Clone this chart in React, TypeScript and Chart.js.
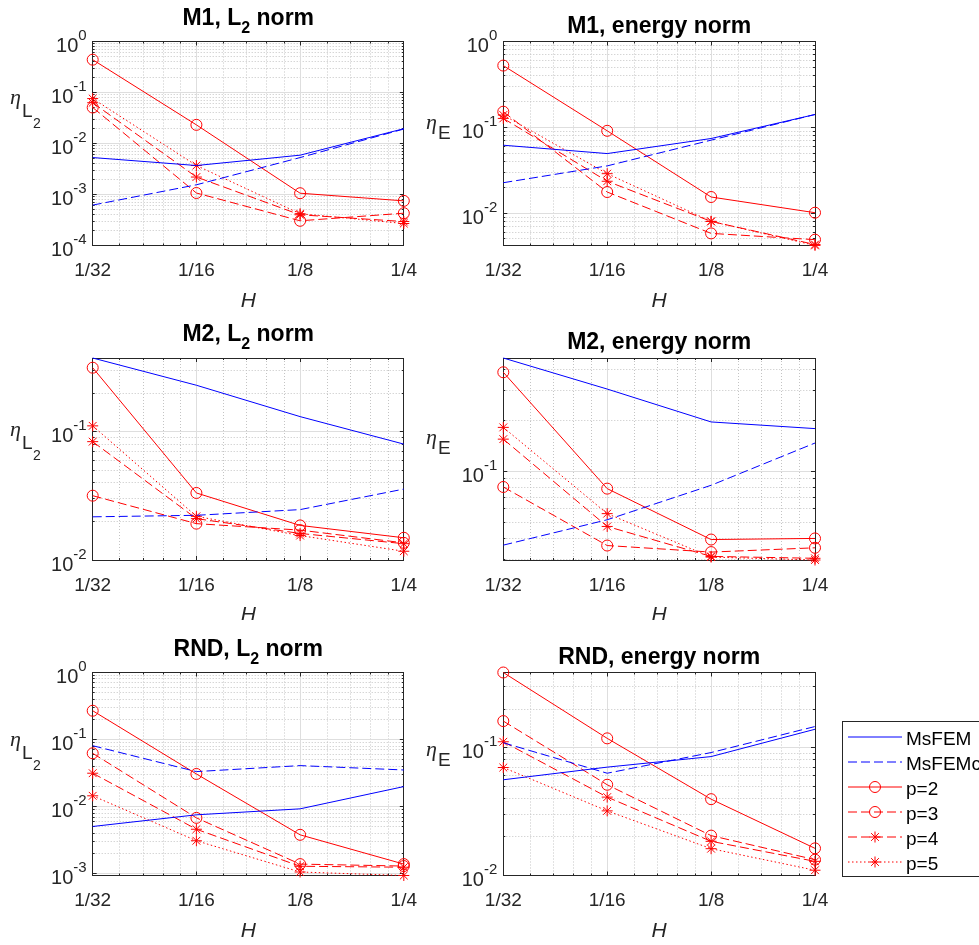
import React, { useEffect, useRef } from 'react';
import { Chart, registerables } from 'chart.js';

Chart.register(...registerables);

// ---------- data ----------
const H = [1 / 32, 1 / 16, 1 / 8, 1 / 4];
const H_TICK_LABELS = ['1/32', '1/16', '1/8', '1/4'];
const SERIES_LABELS = ['MsFEM', 'MsFEMc', 'p=2', 'p=3', 'p=4', 'p=5'];

// M1, L2 norm
const m1L2MsFEM = [5.3e-3, 3.7e-3, 5.9e-3, 0.0195];
const m1L2MsFEMc = [6.2e-4, 1.55e-3, 5.3e-3, 0.0192];
const m1L2P2 = [0.44, 0.0232, 1.06e-3, 7.5e-4];
const m1L2P3 = [0.0508, 1.07e-3, 3.05e-4, 4.3e-4];
const m1L2P4 = [0.063, 2.2e-3, 4.0e-4, 2.95e-4];
const m1L2P5 = [0.076, 3.7e-3, 4.2e-4, 2.7e-4];

// M1, energy norm
const m1EMsFEM = [0.0618, 0.0494, 0.074, 0.141];
const m1EMsFEMc = [0.0226, 0.0355, 0.0708, 0.141];
const m1EP2 = [0.524, 0.091, 0.0154, 0.0101];
const m1EP3 = [0.152, 0.0176, 5.8e-3, 4.9e-3];
const m1EP4 = [0.127, 0.0235, 8.0e-3, 4.3e-3];
const m1EP5 = [0.139, 0.0288, 8.0e-3, 4.2e-3];

// M2, L2 norm
const m2L2MsFEM = [0.375, 0.23, 0.131, 0.08];
const m2L2MsFEMc = [0.0217, 0.0223, 0.0247, 0.0357];
const m2L2P2 = [0.315, 0.0333, 0.0186, 0.0149];
const m2L2P3 = [0.0317, 0.0192, 0.0171, 0.0136];
const m2L2P4 = [0.0836, 0.021, 0.0161, 0.0134];
const m2L2P5 = [0.111, 0.0219, 0.0155, 0.0117];

// M2, energy norm
const m2EMsFEM = [0.469, 0.307, 0.196, 0.179];
const m2EMsFEMc = [0.0365, 0.0516, 0.0826, 0.147];
const m2EP2 = [0.386, 0.0789, 0.0394, 0.04];
const m2EP3 = [0.0807, 0.0363, 0.0332, 0.0352];
const m2EP4 = [0.155, 0.0471, 0.0313, 0.0305];
const m2EP5 = [0.182, 0.0561, 0.031, 0.0298];

// RND, L2 norm
const rndL2MsFEM = [5.06e-3, 7.55e-3, 9.27e-3, 0.0199];
const rndL2MsFEMc = [0.081, 0.0333, 0.0409, 0.0352];
const rndL2P2 = [0.269, 0.0307, 3.8e-3, 1.39e-3];
const rndL2P3 = [0.0624, 6.8e-3, 1.39e-3, 1.3e-3];
const rndL2P4 = [0.0315, 4.6e-3, 1.29e-3, 1.25e-3];
const rndL2P5 = [0.0145, 3.1e-3, 1.06e-3, 9.4e-4];

// RND, energy norm
const rndEMsFEM = [0.056, 0.0703, 0.085, 0.139];
const rndEMsFEMc = [0.109, 0.063, 0.0914, 0.146];
const rndEP2 = [0.386, 0.118, 0.0395, 0.0163];
const rndEP3 = [0.161, 0.0512, 0.0205, 0.0133];
const rndEP4 = [0.111, 0.041, 0.0185, 0.0129];
const rndEP5 = [0.0698, 0.032, 0.0162, 0.011];

// ---------- styles ----------
const SANS = '"Liberation Sans", Arial, Helvetica, sans-serif';
const SERIF = '"Liberation Serif", "Times New Roman", serif';
const AXIS_COLOR = '#262626';
const MAJOR_GRID = '#dedede';
const MINOR_GRID = '#c4c4c4';
const DASH = [9, 4];
const DOT = [1.5, 2.5];

type Style = { color: string; dash: number[]; marker: string | false };
const SERIES_STYLES: Style[] = [
  { color: '#0000ff', dash: [], marker: false },
  { color: '#0000ff', dash: DASH, marker: false },
  { color: '#ff0000', dash: [], marker: 'circle' },
  { color: '#ff0000', dash: DASH, marker: 'circle' },
  { color: '#ff0000', dash: DASH, marker: 'star' },
  { color: '#ff0000', dash: DOT, marker: 'star' },
];
const MARKER_R = 5.5;

type PanelCfg = {
  key: string;
  box: [number, number, number, number];
  area: [number, number, number, number];
  title: [string, string, string];
  titleBaseline: number;
  yLabel: 'L2' | 'E';
  yLabelPos: [number, number];
  yMin: number;
  yMax: number;
  series: number[][];
  legend?: boolean;
};

const LEFT_BOX_X = 0, LEFT_BOX_W = 420;
const RIGHT_BOX_X = 420, RIGHT_BOX_W = 559;
const LX = [92.7, 403.8];
const RX = [503.3, 815];
const ROW1 = [41.5, 245.5];
const ROW2 = [358, 560];
const ROW3 = [672.5, 875.5];

const PANELS: PanelCfg[] = [
  {
    key: 'm1l2', box: [LEFT_BOX_X, 0, LEFT_BOX_W, 310], area: [LX[0], ROW1[0], LX[1], ROW1[1]],
    title: ['M1, L', '2', ' norm'], titleBaseline: ROW1[0] - 17, yLabel: 'L2', yLabelPos: [10, 104],
    yMin: 1e-4, yMax: 1, series: [m1L2MsFEM, m1L2MsFEMc, m1L2P2, m1L2P3, m1L2P4, m1L2P5],
  },
  {
    key: 'm1e', box: [RIGHT_BOX_X, 0, RIGHT_BOX_W, 310], area: [RX[0], ROW1[0], RX[1], ROW1[1]],
    title: ['M1, energy norm', '', ''], titleBaseline: ROW1[0] - 9, yLabel: 'E', yLabelPos: [426, 129],
    yMin: 4.19e-3, yMax: 1, series: [m1EMsFEM, m1EMsFEMc, m1EP2, m1EP3, m1EP4, m1EP5],
  },
  {
    key: 'm2l2', box: [LEFT_BOX_X, 310, LEFT_BOX_W, 310], area: [LX[0], ROW2[0], LX[1], ROW2[1]],
    title: ['M2, L', '2', ' norm'], titleBaseline: ROW2[0] - 17, yLabel: 'L2', yLabelPos: [10, 436],
    yMin: 0.01, yMax: 0.375, series: [m2L2MsFEM, m2L2MsFEMc, m2L2P2, m2L2P3, m2L2P4, m2L2P5],
  },
  {
    key: 'm2e', box: [RIGHT_BOX_X, 310, RIGHT_BOX_W, 310], area: [RX[0], ROW2[0], RX[1], ROW2[1]],
    title: ['M2, energy norm', '', ''], titleBaseline: ROW2[0] - 9, yLabel: 'E', yLabelPos: [426, 444],
    yMin: 0.0298, yMax: 0.469, series: [m2EMsFEM, m2EMsFEMc, m2EP2, m2EP3, m2EP4, m2EP5],
  },
  {
    key: 'rndl2', box: [LEFT_BOX_X, 620, LEFT_BOX_W, 325], area: [LX[0], ROW3[0], LX[1], ROW3[1]],
    title: ['RND, L', '2', ' norm'], titleBaseline: ROW3[0] - 17, yLabel: 'L2', yLabelPos: [10, 746],
    yMin: 9.4e-4, yMax: 1, series: [rndL2MsFEM, rndL2MsFEMc, rndL2P2, rndL2P3, rndL2P4, rndL2P5],
  },
  {
    key: 'rnde', box: [RIGHT_BOX_X, 620, RIGHT_BOX_W, 325], area: [RX[0], ROW3[0], RX[1], ROW3[1]],
    title: ['RND, energy norm', '', ''], titleBaseline: ROW3[0] - 9, yLabel: 'E', yLabelPos: [426, 756],
    yMin: 0.01, yMax: 0.386, series: [rndEMsFEM, rndEMsFEMc, rndEP2, rndEP3, rndEP4, rndEP5],
    legend: true,
  },
];

// ---------- helpers ----------
const snap = (v: number) => Math.round(v - 0.5) + 0.5;
const EPS = 1e-9;

function xMinorValues(): number[] {
  const out: number[] = [];
  for (let i = 0; i < H.length - 1; i++) {
    for (let k = 1; k <= 4; k++) out.push(H[i] * (1 + k / 5));
  }
  return out;
}

function yDecades(min: number, max: number): number[] {
  const out: number[] = [];
  for (let d = Math.floor(Math.log10(min)) - 1; d <= Math.ceil(Math.log10(max)) + 1; d++) {
    const v = Math.pow(10, d);
    if (v >= min * (1 - EPS) && v <= max * (1 + EPS)) out.push(d);
  }
  return out;
}

function yMinorValues(min: number, max: number): number[] {
  const out: number[] = [];
  for (let d = Math.floor(Math.log10(min)) - 1; d <= Math.ceil(Math.log10(max)) + 1; d++) {
    for (let m = 2; m <= 9; m++) {
      const v = m * Math.pow(10, d);
      if (v > min * (1 + EPS) && v < max * (1 - EPS)) out.push(v);
    }
  }
  return out;
}

function drawMarker(ctx: CanvasRenderingContext2D, kind: string, x: number, y: number, r: number) {
  ctx.beginPath();
  if (kind === 'circle') {
    ctx.arc(x, y, r, 0, Math.PI * 2);
  } else {
    ctx.moveTo(x - r, y); ctx.lineTo(x + r, y);
    ctx.moveTo(x, y - r); ctx.lineTo(x, y + r);
    const d = r * Math.SQRT1_2;
    ctx.moveTo(x - d, y - d); ctx.lineTo(x + d, y + d);
    ctx.moveTo(x - d, y + d); ctx.lineTo(x + d, y - d);
  }
  ctx.stroke();
}

function makePlugin(p: PanelCfg) {
  const ox = p.box[0], oy = p.box[1];
  return {
    id: 'matlabAxes_' + p.key,
    beforeDatasetsDraw(chart: any) {
      const ctx: CanvasRenderingContext2D = chart.ctx;
      const { left, right, top, bottom } = chart.chartArea;
      const xs = chart.scales.x, ys = chart.scales.y;
      const xMinor = xMinorValues();
      const yMinor = yMinorValues(p.yMin, p.yMax);
      const dec = yDecades(p.yMin, p.yMax);
      ctx.save();
      ctx.lineWidth = 1;
      // minor grid
      ctx.strokeStyle = MINOR_GRID;
      ctx.setLineDash([1, 2]);
      ctx.beginPath();
      xMinor.forEach((v) => {
        const X = snap(xs.getPixelForValue(v));
        ctx.moveTo(X, top); ctx.lineTo(X, bottom);
      });
      yMinor.forEach((v) => {
        const Y = snap(ys.getPixelForValue(v));
        ctx.moveTo(left, Y); ctx.lineTo(right, Y);
      });
      ctx.stroke();
      // major grid
      ctx.setLineDash([]);
      ctx.strokeStyle = MAJOR_GRID;
      ctx.beginPath();
      H.forEach((v) => {
        const X = snap(xs.getPixelForValue(v));
        if (X > left + 1 && X < right - 1) { ctx.moveTo(X, top); ctx.lineTo(X, bottom); }
      });
      dec.forEach((d) => {
        const Y = snap(ys.getPixelForValue(Math.pow(10, d)));
        if (Y > top + 1 && Y < bottom - 1) { ctx.moveTo(left, Y); ctx.lineTo(right, Y); }
      });
      ctx.stroke();
      // ticks (inward, all four sides)
      ctx.strokeStyle = AXIS_COLOR;
      ctx.beginPath();
      const tickX = (v: number, len: number) => {
        const X = snap(xs.getPixelForValue(v));
        ctx.moveTo(X, bottom); ctx.lineTo(X, bottom - len);
        ctx.moveTo(X, top); ctx.lineTo(X, top + len);
      };
      const tickY = (v: number, len: number) => {
        const Y = snap(ys.getPixelForValue(v));
        ctx.moveTo(left, Y); ctx.lineTo(left + len, Y);
        ctx.moveTo(right, Y); ctx.lineTo(right - len, Y);
      };
      H.forEach((v) => tickX(v, 4));
      xMinor.forEach((v) => tickX(v, 2));
      dec.forEach((d) => tickY(Math.pow(10, d), 4));
      yMinor.forEach((v) => tickY(v, 2));
      ctx.stroke();
      // box
      ctx.strokeRect(snap(left), snap(top), Math.round(right - left), Math.round(bottom - top));
      ctx.restore();
    },
    afterDraw(chart: any) {
      const ctx: CanvasRenderingContext2D = chart.ctx;
      const { left, right, bottom } = chart.chartArea;
      const xs = chart.scales.x, ys = chart.scales.y;
      const cx = (left + right) / 2;
      ctx.save();
      ctx.fillStyle = AXIS_COLOR;
      ctx.textBaseline = 'alphabetic';
      // x tick labels
      ctx.font = `19px ${SANS}`;
      ctx.textAlign = 'center';
      H.forEach((v, i) => {
        ctx.fillText(H_TICK_LABELS[i], xs.getPixelForValue(v), bottom + 30.5);
      });
      // x label
      ctx.font = `italic 21px ${SANS}`;
      ctx.fillText('H', cx, bottom + 61);
      // y tick labels
      ctx.textAlign = 'left';
      yDecades(p.yMin, p.yMax).forEach((d) => {
        const Y = ys.getPixelForValue(Math.pow(10, d));
        const base = '10';
        const ex = d < 0 ? '-' + String(-d) : String(d);
        ctx.font = `20px ${SANS}`;
        const wb = ctx.measureText(base).width;
        ctx.font = `15px ${SANS}`;
        const we = ctx.measureText(ex).width;
        const x0 = left - 6 - wb - we;
        ctx.font = `20px ${SANS}`;
        ctx.fillText(base, x0, Y + 10.5);
        ctx.font = `15px ${SANS}`;
        ctx.fillText(ex, x0 + wb, Y - 1.5);
      });
      // y label
      const lx = p.yLabelPos[0] - ox, ly = p.yLabelPos[1] - oy;
      ctx.font = `italic 22px ${SERIF}`;
      ctx.fillText('\u03B7', lx, ly);
      const we = ctx.measureText('\u03B7').width;
      if (p.yLabel === 'L2') {
        ctx.font = `19px ${SANS}`;
        ctx.fillText('L', lx + we + 1, ly + 13);
        const wl = ctx.measureText('L').width;
        ctx.font = `14px ${SANS}`;
        ctx.fillText('2', lx + we + 1 + wl + 0.5, ly + 24);
      } else {
        ctx.font = `19px ${SANS}`;
        ctx.fillText('E', lx + we + 1, ly + 10);
      }
      // title
      ctx.fillStyle = '#000000';
      const [t1, tsub, t2] = p.title;
      const tb = p.titleBaseline - oy;
      ctx.font = `bold 23px ${SANS}`;
      const w1 = ctx.measureText(t1).width;
      const w2 = ctx.measureText(t2).width;
      ctx.font = `bold 16px ${SANS}`;
      const ws = tsub ? ctx.measureText(tsub).width : 0;
      let tx = cx - (w1 + ws + w2) / 2;
      ctx.font = `bold 23px ${SANS}`;
      ctx.fillText(t1, tx, tb);
      tx += w1;
      if (tsub) {
        ctx.font = `bold 16px ${SANS}`;
        ctx.fillText(tsub, tx, tb + 8);
        tx += ws;
        ctx.font = `bold 23px ${SANS}`;
        ctx.fillText(t2, tx, tb);
      }
      ctx.restore();

      if (p.legend) {
        ctx.save();
        const bx = 842.7 - ox, by = 721 - oy, bh = 875.7 - 721;
        ctx.fillStyle = '#ffffff';
        ctx.fillRect(bx, by, 200, bh);
        ctx.strokeStyle = AXIS_COLOR;
        ctx.lineWidth = 1;
        ctx.setLineDash([]);
        ctx.strokeRect(snap(bx), snap(by), 200, Math.round(bh));
        for (let i = 0; i < SERIES_LABELS.length; i++) {
          const st = SERIES_STYLES[i];
          const yy = 737 + 25 * i - oy;
          ctx.lineWidth = 1;
          ctx.strokeStyle = st.color;
          ctx.setLineDash(st.dash.slice());
          ctx.beginPath();
          ctx.moveTo(848 - ox, yy);
          ctx.lineTo(902 - ox, yy);
          ctx.stroke();
          ctx.setLineDash([]);
          if (st.marker) {
            ctx.strokeStyle = st.color;
            drawMarker(ctx, st.marker, 875 - ox, yy, MARKER_R);
          }
          ctx.fillStyle = '#000000';
          ctx.font = `19px ${SANS}`;
          ctx.textAlign = 'left';
          ctx.fillText(SERIES_LABELS[i], 906 - ox, yy + 7.5);
        }
        ctx.restore();
      }
    },
  };
}

function buildConfig(p: PanelCfg): any {
  const [bx, by, bw, bh] = p.box;
  const [L, T, R, B] = p.area;
  const datasets = p.series.map((vals, i) => {
    const st = SERIES_STYLES[i];
    return {
      label: SERIES_LABELS[i],
      data: H.map((x, j) => ({ x, y: vals[j] })),
      borderColor: st.color,
      backgroundColor: 'rgba(0,0,0,0)',
      borderWidth: 1,
      borderDash: st.dash.slice(),
      tension: 0,
      fill: false,
      clip: false,
      pointStyle: st.marker || 'circle',
      pointRadius: st.marker ? MARKER_R : 0,
      pointBorderColor: st.color,
      pointBackgroundColor: 'rgba(0,0,0,0)',
      pointBorderWidth: 1,
      pointHoverRadius: 0,
    };
  });
  return {
    type: 'line',
    data: { datasets },
    options: {
      responsive: false,
      maintainAspectRatio: false,
      animation: false,
      devicePixelRatio: 1,
      events: [],
      layout: { padding: { left: L - bx, top: T - by, right: bx + bw - R, bottom: by + bh - B } },
      plugins: { legend: { display: false }, tooltip: { enabled: false }, title: { display: false } },
      scales: {
        x: { type: 'logarithmic', min: H[0], max: H[H.length - 1], display: false, bounds: 'data' },
        y: { type: 'logarithmic', min: p.yMin, max: p.yMax, display: false, bounds: 'data' },
      },
    },
    plugins: [makePlugin(p)],
  };
}

function PanelChart({ p }: { p: PanelCfg }) {
  const ref = useRef<HTMLCanvasElement | null>(null);
  useEffect(() => {
    if (!ref.current) return;
    const chart = new Chart(ref.current, buildConfig(p));
    return () => chart.destroy();
  }, [p]);
  return (
    <canvas
      ref={ref}
      width={p.box[2]}
      height={p.box[3]}
      style={{ position: 'absolute', left: p.box[0], top: p.box[1], width: p.box[2], height: p.box[3] }}
    />
  );
}

export default function App() {
  return (
    <div style={{ position: 'absolute', left: 0, top: 0, width: 979, height: 945, background: '#ffffff', overflow: 'hidden' }}>
      {PANELS.map((p) => (
        <PanelChart key={p.key} p={p} />
      ))}
    </div>
  );
}
